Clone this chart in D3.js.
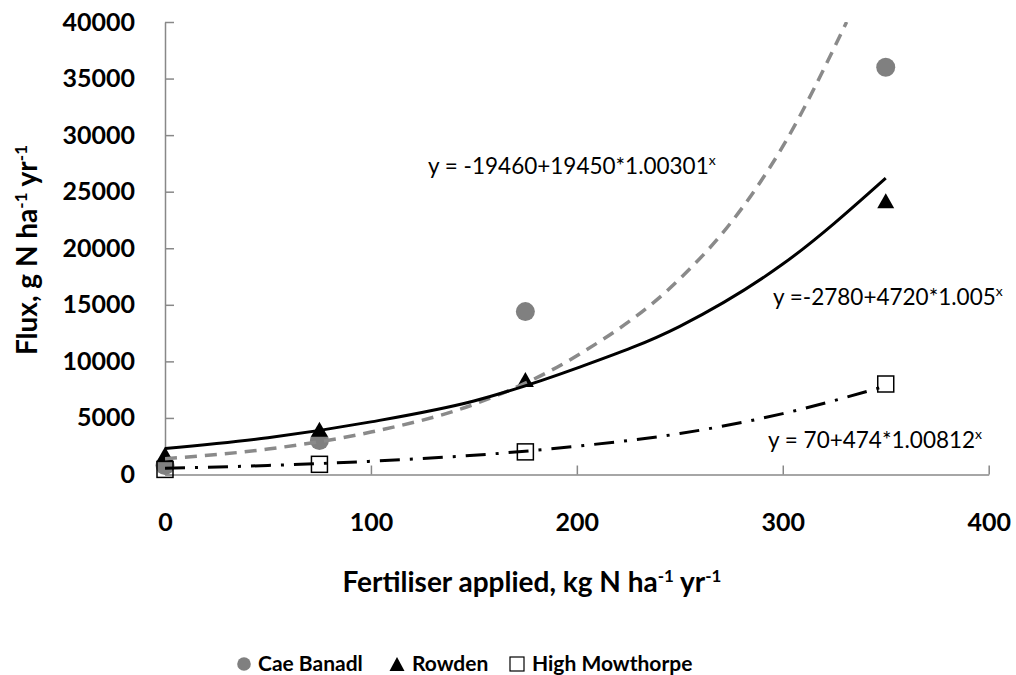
<!DOCTYPE html>
<html>
<head>
<meta charset="utf-8">
<script src="https://cdn.jsdelivr.net/npm/d3@7"></script>
<style>
  html, body { margin: 0; padding: 0; background: #fff; }
  svg { display: block; font-family: Lato, "Open Sans", sans-serif; }
</style>
</head>
<body>
<svg id="chart" width="1016" height="675"></svg>
<script>
// ---- data ----
const fertiliser = [0, 75, 175, 350];
const caeBanadl = [800, 3000, 14400, 36000];
const rowden = [1800, 4000, 8400, 24200];
const highMowthorpe = [450, 900, 2000, 8000];

// fitted trend lines (x in kg N, y in g N)
const caeTrendX = [0, 50, 100, 150, 200, 250, 275, 300, 331];
const caeTrendY = [1400, 2250, 3750, 6200, 10500, 17300, 22300, 29000, 40000];
const rowTrendX = [0, 50, 100, 150, 200, 250, 300, 350];
const rowTrendY = [2300, 3250, 4650, 6500, 9400, 13100, 18600, 26200];
const hmTrendX = [0, 50, 100, 150, 200, 250, 300, 350];
const hmTrendY = [550, 800, 1170, 1700, 2500, 3620, 5380, 7820];

const xTicks = [0, 100, 200, 300, 400];
const yTicks = [0, 5000, 10000, 15000, 20000, 25000, 30000, 35000, 40000];

const equations = [
  { text: "y = -19460+19450*1.00301", sup: "x" },
  { text: "y =-2780+4720*1.005", sup: "x" },
  { text: "y = 70+474*1.00812", sup: "x" }
];
const legendNames = ["Cae Banadl", "Rowden", "High Mowthorpe"];

// ---- layout ----
const svg = d3.select("#chart");
const pLeft = 165, pRight = 988.7, pTop = 22, pBottom = 474.5;
const x = d3.scaleLinear().domain([0, 400]).range([pLeft, pRight]);
const y = d3.scaleLinear().domain([0, 40000]).range([pBottom, pTop]);
const axisColor = "#888888";

svg.append("defs").append("clipPath").attr("id", "plotclip")
  .append("rect").attr("x", pLeft).attr("y", pTop)
  .attr("width", pRight - pLeft).attr("height", pBottom - pTop);

// axes
const yAxis = d3.axisLeft(y).tickValues(yTicks).tickSizeInner(-9).tickSizeOuter(0)
  .tickPadding(30).tickFormat(d3.format("d"));
const gy = svg.append("g").attr("transform", `translate(${pLeft},0)`).call(yAxis);
const xAxis = d3.axisBottom(x).tickValues(xTicks).tickSizeInner(-9).tickSizeOuter(0)
  .tickPadding(39).tickFormat(d3.format("d"));
const gx = svg.append("g").attr("transform", `translate(0,${pBottom})`).call(xAxis);
[gx, gy].forEach(g => {
  g.select(".domain").attr("stroke", axisColor).attr("stroke-width", 1.5);
  g.selectAll(".tick line").attr("stroke", axisColor).attr("stroke-width", 1.5);
  g.selectAll(".tick text").attr("fill", "#000").attr("font-size", 25)
    .attr("font-weight", "bold").attr("font-family", "Lato, sans-serif");
});

// axis titles with superscripts
function supText(sel, parts, supSize, shift) {
  let raised = false;
  parts.forEach(p => {
    const ts = sel.append("tspan").text(p.t);
    if (p.sup) {
      ts.attr("font-size", supSize).attr("dy", -shift);
      raised = true;
    } else if (raised) {
      ts.attr("dy", shift);
      raised = false;
    }
  });
}
const xTitle = svg.append("text").attr("x", 532).attr("y", 592)
  .attr("text-anchor", "middle").attr("font-size", 28).attr("font-weight", "bold");
supText(xTitle, [{t: "Fertiliser applied, kg N ha"}, {t: "-1", sup: true}, {t: " yr"}, {t: "-1", sup: true}], 17, 10);

const yTitle = svg.append("text").attr("transform", "translate(37,250) rotate(-90)")
  .attr("text-anchor", "middle").attr("font-size", 28).attr("font-weight", "bold");
supText(yTitle, [{t: "Flux, g N ha"}, {t: "-1", sup: true}, {t: " yr"}, {t: "-1", sup: true}], 17, 10);

// trend line generator
const line = d3.line().x(d => x(d[0])).y(d => y(d[1])).curve(d3.curveMonotoneX);

// markers
const markers = svg.append("g");
markers.selectAll("circle.cae").data(fertiliser.map((f, i) => [f, caeBanadl[i]]))
  .join("circle").attr("class", "cae")
  .attr("cx", d => x(d[0])).attr("cy", d => y(d[1])).attr("r", 9.5).attr("fill", "#808080");
const triPath = "M0,-7.5L8.5,7.5L-8.5,7.5Z";
markers.selectAll("path.row").data(fertiliser.map((f, i) => [f, rowden[i]]))
  .join("path").attr("class", "row").attr("d", triPath)
  .attr("transform", d => `translate(${x(d[0])},${y(d[1])})`).attr("fill", "#000");
markers.selectAll("rect.hm").data(fertiliser.map((f, i) => [f, highMowthorpe[i]]))
  .join("rect").attr("class", "hm")
  .attr("x", d => x(d[0]) - 8).attr("y", d => y(d[1]) - 8).attr("width", 16).attr("height", 16)
  .attr("fill", "none").attr("stroke", "#000").attr("stroke-width", 1.5);

const lines = svg.append("g").attr("clip-path", "url(#plotclip)");
lines.append("path").datum(caeTrendX.map((v, i) => [v, caeTrendY[i]]))
  .attr("d", line).attr("fill", "none").attr("stroke", "#8a8a8a")
  .attr("stroke-width", 3.5).attr("stroke-dasharray", "12,8");
lines.append("path").datum(rowTrendX.map((v, i) => [v, rowTrendY[i]]))
  .attr("d", line).attr("fill", "none").attr("stroke", "#000")
  .attr("stroke-width", 3);
lines.append("path").datum(hmTrendX.map((v, i) => [v, hmTrendY[i]]))
  .attr("d", line).attr("fill", "none").attr("stroke", "#000")
  .attr("stroke-width", 3).attr("stroke-dasharray", "20,10,3,10");

// equations
const eqPos = [[428, 174], [773, 305], [768, 448]];
equations.forEach((e, i) => {
  const t = svg.append("text").attr("x", eqPos[i][0]).attr("y", eqPos[i][1])
    .attr("font-size", 22.5).attr("fill", "#000");
  t.append("tspan").text(e.text);
  t.append("tspan").attr("font-size", 14).attr("dy", -9).text(e.sup);
});

// legend
const leg = svg.append("g");
const legX = [244, 397, 517];
const legTextX = [258, 412, 532];
leg.append("circle").attr("cx", legX[0]).attr("cy", 664).attr("r", 6.8).attr("fill", "#808080");
leg.append("path").attr("d", "M0,-7L7.5,7L-7.5,7Z").attr("transform", `translate(${legX[1]},664)`).attr("fill", "#000");
leg.append("rect").attr("x", legX[2] - 7).attr("y", 657).attr("width", 14).attr("height", 14)
  .attr("fill", "none").attr("stroke", "#000").attr("stroke-width", 1.2);
legendNames.forEach((n, i) => {
  leg.append("text").attr("x", legTextX[i]).attr("y", 671).attr("font-size", 21)
    .attr("font-weight", "bold").text(n);
});
</script>
</body>
</html>
